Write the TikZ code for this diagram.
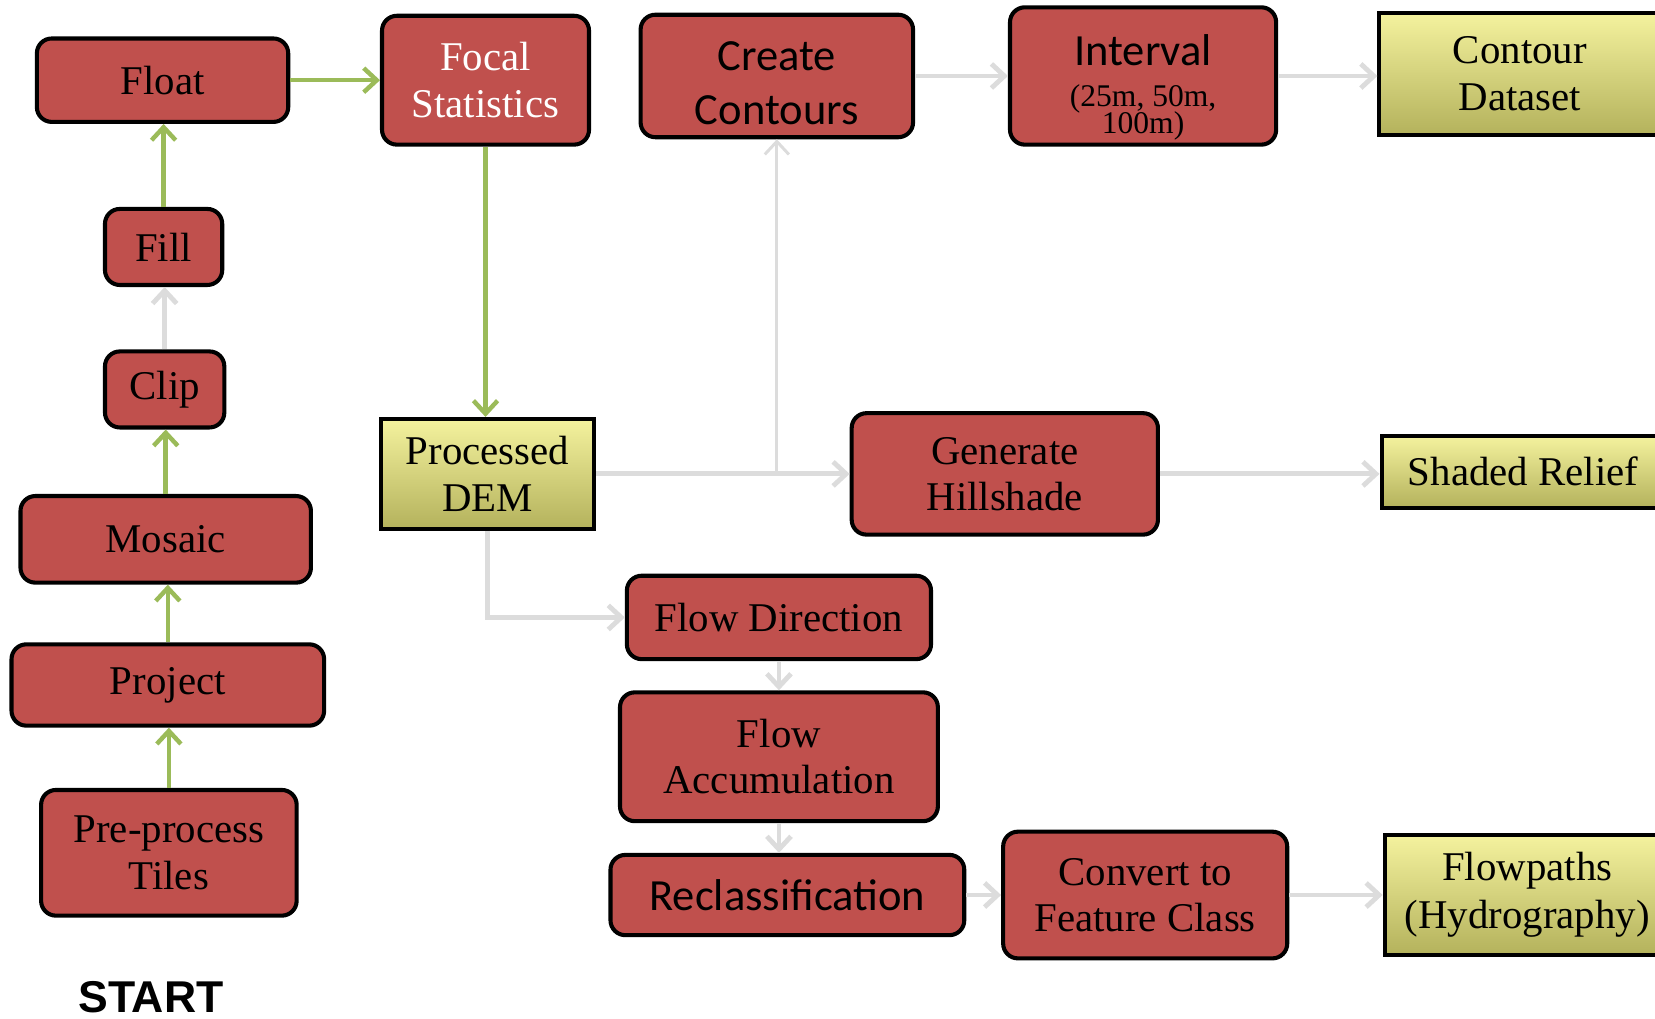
\documentclass[tikz,border=0pt]{standalone}
\usepackage{fontspec}
\setmainfont{Liberation Serif}
\setsansfont{Liberation Sans}
\newfontfamily\calibfont{Carlito}
\usetikzlibrary{arrows.meta, positioning}

\definecolor{procred}{HTML}{C0504D}
\definecolor{dataTop}{HTML}{F4F29E}
\definecolor{dataMid}{HTML}{E8E686}
\definecolor{dataBot}{HTML}{B4B25C}
\definecolor{flowgreen}{HTML}{9BBB59}
\definecolor{flowgrey}{HTML}{DCDCDC}

% text block set lower in its box
\newcommand{\lowtext}[2]{\raisebox{-#1}[\height][\depth]{\begin{tabular}{@{}c@{}}#2\end{tabular}}}

\begin{document}
\begin{tikzpicture}[x=0.01cm, y=-0.01cm, >={Straight Barb[length=3.5pt,width=6.5pt]},
  procbox/.style={rectangle, draw=black, line width=1.1pt, fill=procred, rounded corners=4pt, align=center, inner sep=2pt, font=\fontsize{11}{12.5}\selectfont},
  calibbox/.style={procbox, font=\calibfont\fontsize{12}{14.5}\selectfont},
  databox/.style={rectangle, draw=black, line width=1.1pt, top color=dataTop, middle color=dataMid, bottom color=dataBot, align=center, inner sep=2pt, font=\fontsize{11}{12.5}\selectfont},
  greenline/.style={->, draw=flowgreen, line width=1.2pt},
  greyline/.style={->, draw=flowgrey, line width=1.3pt},
  thingrey/.style={greyline, line width=0.8pt}]
\clip (0,0) rectangle (1568,965);

% left column
\node[procbox, minimum width=2.38cm, minimum height=0.79cm] (float) at (154,76) {Float};
\node[procbox, minimum width=1.11cm, minimum height=0.72cm] (fill) at (155,234) {Fill};
\node[procbox, minimum width=1.13cm, minimum height=0.72cm] (clip) at (156,369) {Clip};
\node[procbox, minimum width=2.75cm, minimum height=0.82cm] (mosaic) at (157,511) {Mosaic};
\node[procbox, minimum width=2.96cm, minimum height=0.77cm] (project) at (159,649) {Project};
\node[procbox, minimum width=2.42cm, minimum height=1.19cm] (pre) at (160,808) {Pre-process\\Tiles};
\node[font=\sffamily\bfseries\fontsize{12}{14}\selectfont] (start) at (143,945) {START};

% top row
\node[procbox, text=white, minimum width=1.96cm, minimum height=1.22cm] (focal) at (460,76) {Focal\\Statistics};
\node[calibbox, minimum width=2.58cm, minimum height=1.16cm] (contours) at (736,72) {\lowtext{3pt}{Create\\Contours}};
\node[calibbox, minimum width=2.52cm, minimum height=1.30cm] (interval) at (1083,72) {\lowtext{3.4pt}{Interval\\[-3.4pt] \rmfamily\fontsize{8.5}{9}\selectfont (25m, 50m,\\[-7.1pt] \rmfamily\fontsize{8.5}{9}\selectfont 100m)}};
\node[databox, minimum width=2.66cm, minimum height=1.15cm] (cdata) at (1440,70) {Contour\\Dataset};

% middle row
\node[databox, minimum width=2.02cm, minimum height=1.04cm] (dem) at (462,449) {Processed\\DEM};
\node[procbox, minimum width=2.90cm, minimum height=1.15cm] (hill) at (952,449) {Generate\\Hillshade};
\node[databox, minimum width=2.68cm, minimum height=0.68cm] (relief) at (1443,447) {Shaded Relief};

% flow branch
\node[procbox, minimum width=2.88cm, minimum height=0.79cm] (fdir) at (738,585) {Flow Direction};
\node[procbox, minimum width=3.01cm, minimum height=1.22cm] (facc) at (738,717) {Flow\\Accumulation};
\node[calibbox, minimum width=3.35cm, minimum height=0.76cm] (recl) at (746,848) {Reclassification};
\node[procbox, minimum width=2.69cm, minimum height=1.20cm] (conv) at (1085,848) {Convert to\\Feature Class};
\node[databox, minimum width=2.70cm, minimum height=1.13cm, font=\fontsize{11}{13}\selectfont] (fpath) at (1447,848) {Flowpaths\\(Hydrography)};

% connectors
\draw[greenline] (pre) -- (pre |- project.south);
\draw[greenline] (project) -- (project |- mosaic.south);
\draw[greenline] (mosaic) -- (mosaic |- clip.south);
\draw[greyline] (clip) -- (clip |- fill.south);
\draw[greenline] (fill) -- (fill |- float.south);
\draw[greenline] (float) -- (focal);
\draw[greenline] (focal) -- (focal |- dem.north);
\draw[greyline] (dem) -- (hill);
\draw[thingrey] (dem.east -| contours.south) -- (contours);
\draw[greyline] (contours) -- (interval);
\draw[greyline] (interval) -- (interval -| cdata.west);
\draw[greyline] (hill) -- (hill -| relief.west);
\draw[greyline] (dem.south) |- (fdir.west);
\draw[greyline] (fdir) -- (facc);
\draw[greyline] (facc.south) -- (facc.south |- recl.north);
\draw[greyline] (recl) -- (conv);
\draw[greyline] (conv) -- (conv -| fpath.west);
\end{tikzpicture}
\end{document}
